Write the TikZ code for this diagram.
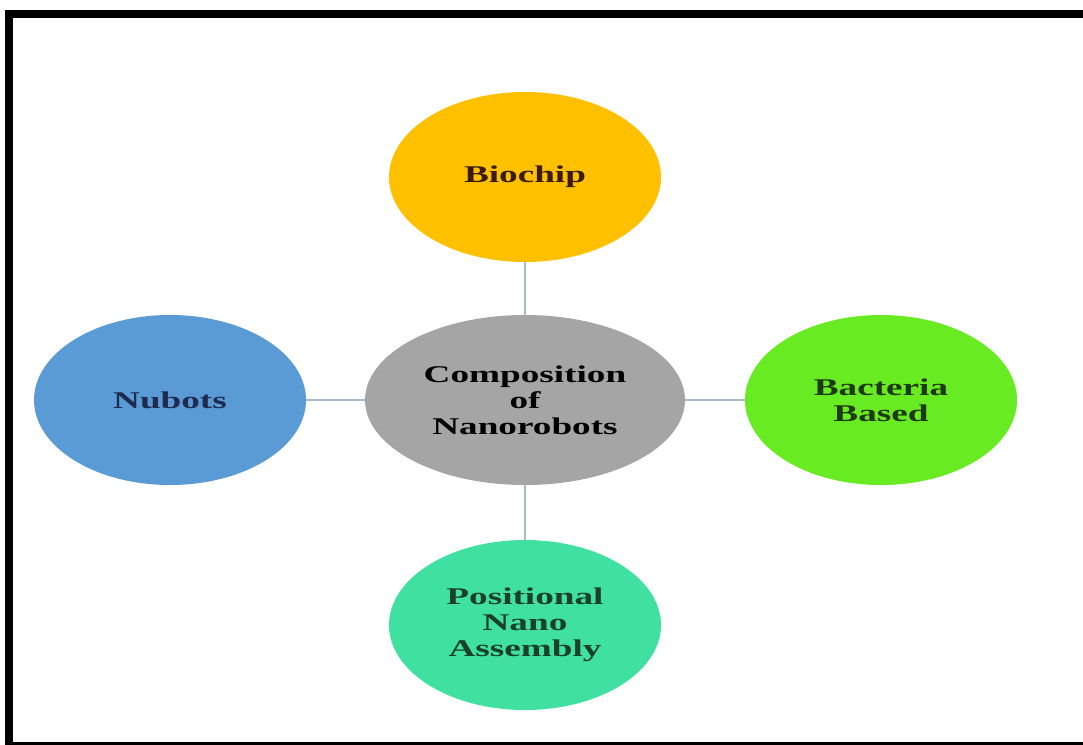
\documentclass[tikz,border=0pt]{standalone}
\usepackage{fontspec}
\setmainfont{Liberation Serif}[FakeStretch=1.55]
\usetikzlibrary{shapes.geometric}
\definecolor{cgold}{HTML}{FFC000}
\definecolor{cblue}{HTML}{5B9BD5}
\definecolor{cgreen}{HTML}{68EB22}
\definecolor{cteal}{HTML}{40E0A0}
\definecolor{cgray}{HTML}{A5A5A5}
\definecolor{cline}{HTML}{A8BACE}
\definecolor{tbrown}{HTML}{3B1C0A}
\definecolor{tnavy}{HTML}{1F2A50}
\definecolor{tgreen}{HTML}{1E3A14}
\definecolor{tteal}{HTML}{1A402A}
\begin{document}
\begin{tikzpicture}[x=0.5pt,y=-0.5pt,
  bubble/.style={ellipse, draw=none, inner sep=0pt, minimum width=136pt, minimum height=85pt,
    align=center, font=\fontsize{12pt}{13pt}\selectfont\bfseries},
  link/.style={draw=cline, line width=1pt}]
\useasboundingbox (0,0) rectangle (1083,745);
\fill[black] (5,10) rectangle (1083,745);
\fill[white] (13,18) rectangle (1083,742);
\node[bubble, fill=cgray, minimum width=160pt, text=black] (c) at (525,400) {Composition\\of\\Nanorobots};
\node[bubble, fill=cgold, text=tbrown] (b) at (525,177) {Biochip};
\node[bubble, fill=cblue, text=tnavy] (n) at (170,400) {Nubots};
\node[bubble, fill=cgreen, text=tgreen] (r) at (881,400) {Bacteria\\Based};
\node[bubble, fill=cteal, text=tteal] (p) at (525,625) {Positional\\Nano\\Assembly};
\draw[link] (b.south) -- (c.north);
\draw[link] (c.south) -- (p.north);
\draw[link] (n.east) -- (c.west);
\draw[link] (c.east) -- (r.west);
\end{tikzpicture}
\end{document}
